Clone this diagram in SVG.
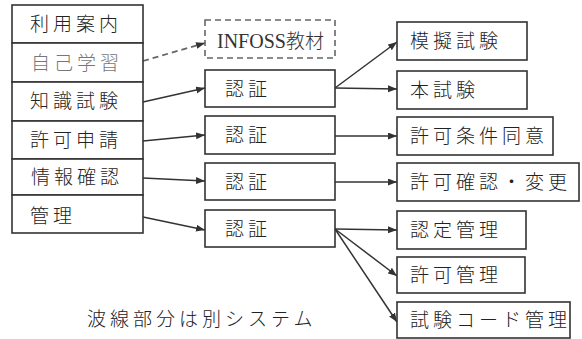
<svg xmlns="http://www.w3.org/2000/svg" width="582" height="339" viewBox="0 0 582 339">
<style>
.bx{fill:#fff;stroke:#333;stroke-width:1.6}
.dbx{fill:#fff;stroke:#666;stroke-width:1.6;stroke-dasharray:6 4}
.t{font-family:"Noto Sans CJK JP","Noto Sans CJK SC",sans-serif;font-size:19px;font-weight:300;letter-spacing:4px;fill:#222}
.g{fill:#777}
.c{stroke:#333;stroke-width:1.5;fill:none;marker-end:url(#ah)}
.cd{stroke:#666;stroke-width:1.8;fill:none;stroke-dasharray:6 4;marker-end:url(#ah)}
</style>
<defs>
<marker id="ah" markerUnits="userSpaceOnUse" markerWidth="10" markerHeight="8" refX="9" refY="3.5" orient="auto">
<path d="M0,0 L9,3.5 L0,7 z" fill="#333"/>
</marker>
</defs>
<rect width="582" height="339" fill="#fff"/>
<g id="connectors">
<path class="cd" d="M143,61 L205,43"/>
<path class="c" d="M143,102 L205,88"/>
<path class="c" d="M143,141 L205,135"/>
<path class="c" d="M143,178 L205,181"/>
<path class="c" d="M143,217 L205,230"/>
<path class="c" d="M335,88 L397,42"/>
<path class="c" d="M335,88 L397,89"/>
<path class="c" d="M335,136 L397,136"/>
<path class="c" d="M335,182 L397,182"/>
<path class="c" d="M335,229 L397,230"/>
<path class="c" d="M335,229 L397,276"/>
<path class="c" d="M335,229 L397,322"/>
</g>
<g id="n-riyou"><rect class="bx" x="12" y="5" width="131" height="38"/><text class="t" x="30" y="31">利用案内</text></g>
<g id="n-jiko"><rect class="bx" x="12" y="43" width="131" height="39"/><text class="t g" x="31" y="70">自己学習</text></g>
<g id="n-chishiki"><rect class="bx" x="12" y="82" width="131" height="39"/><text class="t" x="30" y="108">知識試験</text></g>
<g id="n-kyoka"><rect class="bx" x="12" y="121" width="131" height="38"/><text class="t" x="30" y="147">許可申請</text></g>
<g id="n-joho"><rect class="bx" x="12" y="159" width="131" height="36"/><text class="t" x="31" y="184">情報確認</text></g>
<g id="n-kanri"><rect class="bx" x="12" y="195" width="131" height="38"/><text class="t" x="30" y="223">管理</text></g>
<g id="n-infoss"><rect class="dbx" x="205" y="20" width="130" height="38"/><text x="217" y="48" font-family="'Liberation Serif','Noto Sans CJK JP',serif" font-size="20" fill="#333">INFOSS<tspan font-family="'Noto Sans CJK JP',sans-serif" font-size="19" font-weight="300">教材</tspan></text></g>
<g id="n-nin1"><rect class="bx" x="205" y="70" width="130" height="37"/><text class="t" x="225" y="96">認証</text></g>
<g id="n-nin2"><rect class="bx" x="205" y="116" width="130" height="38"/><text class="t" x="225" y="142">認証</text></g>
<g id="n-nin3"><rect class="bx" x="205" y="163" width="130" height="37"/><text class="t" x="225" y="189">認証</text></g>
<g id="n-nin4"><rect class="bx" x="205" y="210" width="130" height="37"/><text class="t" x="225" y="236">認証</text></g>
<g id="n-mogi"><rect class="bx" x="397" y="22" width="130" height="38"/><text class="t" x="410" y="48">模擬試験</text></g>
<g id="n-hon"><rect class="bx" x="397" y="71" width="130" height="38"/><text class="t" x="410" y="97">本試験</text></g>
<g id="n-joken"><rect class="bx" x="397" y="117" width="156" height="38"/><text class="t" x="410" y="143">許可条件同意</text></g>
<g id="n-henko"><rect class="bx" x="397" y="163" width="182" height="38"/><text class="t" x="410" y="189">許可確認・変更</text></g>
<g id="n-nintei"><rect class="bx" x="397" y="211" width="129" height="38"/><text class="t" x="410" y="237">認定管理</text></g>
<g id="n-kyokakanri"><rect class="bx" x="397" y="257" width="128" height="36"/><text class="t" x="410" y="282">許可管理</text></g>
<g id="n-shiken"><rect class="bx" x="397" y="302" width="173" height="36"/><text class="t" x="410" y="327">試験コード管理</text></g>
<text class="t" x="87" y="326">波線部分は別システム</text>
</svg>
